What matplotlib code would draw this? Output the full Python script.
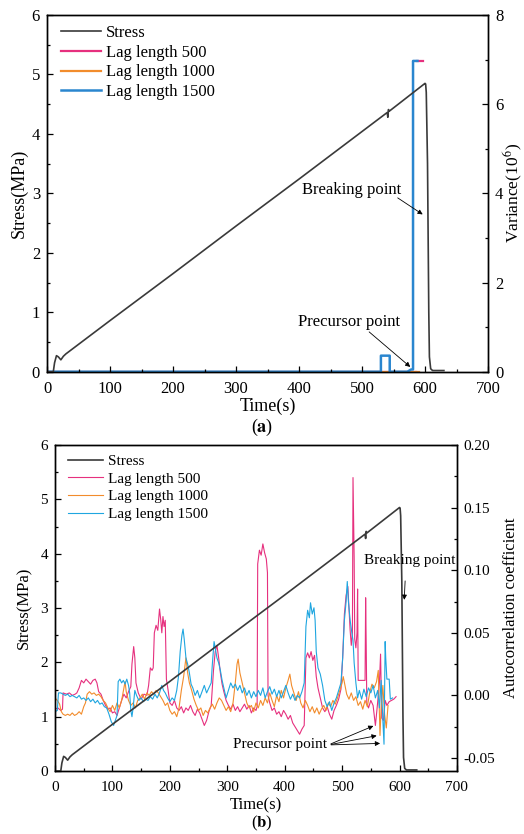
import numpy as np
import matplotlib
matplotlib.use("Agg")
import matplotlib.pyplot as plt
from matplotlib.ticker import MultipleLocator, FormatStrFormatter

plt.rcParams["font.family"] = ["Liberation Serif", "DejaVu Serif"]
plt.rcParams["mathtext.fontset"] = "stix"
plt.rcParams["font.size"] = 12

# stress curve (shared by both panels)
stress_t = [0, 10, 12, 15, 18, 22, 26, 30, 40, 60, 100, 200, 300, 400, 500,
            540, 541, 542, 543, 560, 600, 601, 602, 604, 606, 607, 609, 612, 620, 630]
stress = [0, 0, 0.15, 0.27, 0.25, 0.2, 0.26, 0.3, 0.38, 0.54, 0.86, 1.65, 2.45,
          3.24, 4.04, 4.36, 4.28, 4.41, 4.38, 4.52, 4.85, 4.84, 4.7, 3.5, 1.0,
          0.25, 0.05, 0.02, 0.02, 0.02]

# panel (a): variance (10^6)
var500_t = [0, 586, 587, 587, 597]
var500 = [0, 0, np.nan, 6.97, 6.97]
var1000_t = [0, 590]
var1000 = [0, 0]
var1500_t = [0, 530, 530, 544, 544, 572, 578, 581, 581, 588]
var1500 = [0, 0, 0.36, 0.36, 0, 0, 0.05, 0.05, 6.97, 6.97]

# panel (b): autocorrelation coefficient
ac500_t = [0, 5, 10, 13, 14, 20, 25, 30, 35, 38, 42, 46, 50, 54, 58, 62, 66, 70, 73, 76,
           80, 84, 88, 92, 96, 100, 104, 108, 112, 116, 120, 124, 128, 132, 134, 137, 139,
           141, 145, 150, 155, 160, 163, 166, 169, 171, 173, 176, 179, 182, 184, 186, 188,
           190, 192, 194, 197, 200, 204, 208, 212, 216, 220, 224, 228, 232, 236, 240, 244,
           248, 252, 256, 260, 264, 268, 272, 276, 279, 282, 285, 288, 291, 294, 298, 302,
           306, 310, 314, 318, 322, 326, 330, 334, 338, 342, 346, 350, 352, 353, 356, 359,
           362, 365, 368, 370, 371, 374, 378, 382, 386, 390, 394, 398, 402, 406, 410, 414,
           418, 422, 426, 430, 434, 437, 440, 443, 446, 449, 452, 455, 458, 462, 466, 470,
           474, 478, 482, 486, 490, 494, 498, 501, 504, 507, 510, 512, 514, 516, 518, 519,
           521, 522, 524, 526, 527, 528, 530, 535, 540, 541, 542, 543, 546, 550, 554, 558,
           561, 565, 567, 569, 572, 575, 578, 582, 586, 590, 594]
ac500 = [-0.011, -0.010, -0.012, -0.011, 0.002, 0.001, 0.002, 0.000, 0.001, 0.002, 0.006,
         0.012, 0.010, 0.013, 0.011, 0.009, 0.012, 0.013, 0.010, 0.003, 0.001, -0.004,
         -0.008, -0.011, -0.010, -0.014, -0.013, -0.016, -0.010, -0.004, 0.001, -0.002,
         0.003, 0.007, 0.025, 0.039, 0.030, 0.010, 0.002, -0.003, 0.001, 0.000, 0.008,
         0.022, 0.020, 0.022, 0.050, 0.056, 0.052, 0.069, 0.061, 0.050, 0.063, 0.055,
         0.060, 0.013, 0.004, -0.006, -0.008, -0.004, -0.010, -0.012, -0.009, -0.014,
         -0.010, -0.012, -0.008, -0.013, -0.016, -0.011, -0.014, -0.019, -0.024, -0.020,
         -0.013, -0.008, 0.020, 0.035, 0.040, 0.030, 0.018, 0.009, 0.003, -0.004, -0.008,
         -0.011, -0.007, -0.012, -0.009, -0.013, -0.010, -0.007, -0.011, -0.008, -0.014,
         -0.010, -0.012, -0.009, 0.105, 0.116, 0.112, 0.121, 0.114, 0.109, 0.098, 0.000,
         -0.006, -0.012, -0.010, -0.015, -0.013, -0.017, -0.012, -0.015, -0.019, -0.016,
         -0.022, -0.025, -0.028, -0.031, -0.027, -0.024, 0.030, 0.034, 0.030, 0.035,
         0.028, 0.032, 0.015, 0.006, -0.002, -0.010, -0.013, -0.009, -0.015, -0.019,
         -0.012, -0.008, -0.003, 0.005, 0.030, 0.065, 0.080, 0.087, 0.070, 0.052, 0.040,
         0.050, 0.174, 0.110, 0.045, 0.038, 0.050, 0.085, 0.012, 0.012, 0.012, 0.012,
         0.078, 0.040, -0.006, -0.010, -0.004, -0.008, -0.024, -0.010, 0.010, 0.033,
         -0.018, -0.020, -0.004, -0.008, -0.005, -0.004, -0.003, -0.001]

ac1000_t = [0, 4, 8, 11, 14, 18, 22, 26, 30, 34, 38, 42, 46, 50, 53, 56, 60, 64, 68, 72,
            76, 80, 84, 88, 92, 96, 100, 104, 108, 112, 116, 120, 122, 124, 128, 132, 136,
            140, 144, 148, 152, 156, 160, 164, 168, 172, 176, 180, 184, 188, 192, 196, 200,
            204, 208, 212, 216, 220, 224, 228, 231, 234, 238, 242, 246, 250, 254, 258, 262,
            266, 270, 274, 278, 282, 286, 290, 294, 298, 302, 306, 310, 314, 317, 319, 322,
            326, 330, 334, 338, 342, 346, 350, 354, 358, 362, 366, 370, 374, 378, 382, 386,
            390, 394, 398, 402, 406, 409, 412, 416, 420, 424, 428, 432, 436, 440, 444, 448,
            452, 456, 460, 464, 468, 472, 476, 480, 484, 488, 492, 496, 500, 502, 505, 508,
            512, 516, 520, 524, 528, 532, 536, 540, 544, 548, 552, 556, 560, 563, 566, 568,
            571, 574, 577, 580]
ac1000 = [-0.002, -0.004, -0.007, -0.013, -0.015, -0.016, -0.015, -0.016, -0.014, -0.016,
          -0.015, -0.013, -0.015, -0.009, -0.006, 0.001, 0.003, 0.001, 0.002, 0.000, 0.001,
          -0.001, -0.004, -0.006, -0.010, -0.013, -0.008, -0.012, -0.006, -0.010, -0.004,
          0.006, 0.011, 0.003, -0.004, -0.008, -0.006, -0.010, -0.004, -0.002, 0.001,
          -0.003, 0.002, 0.000, 0.003, 0.001, 0.004, 0.002, -0.001, -0.004, -0.008, -0.006,
          -0.012, -0.015, -0.013, -0.017, -0.010, 0.004, 0.015, 0.030, 0.018, 0.010, 0.004,
          -0.003, -0.008, -0.012, -0.010, -0.016, -0.012, -0.014, -0.010, -0.007, -0.011,
          -0.006, -0.002, -0.004, -0.008, -0.012, -0.009, -0.013, -0.006, 0.010, 0.025,
          0.029, 0.018, 0.010, 0.002, -0.006, -0.010, -0.008, -0.013, -0.006, -0.010,
          -0.004, -0.008, -0.002, -0.006, 0.002, -0.004, -0.009, 0.000, -0.005, 0.004,
          -0.002, 0.006, 0.012, 0.017, 0.008, 0.002, -0.004, 0.003, -0.006, -0.010, -0.004,
          -0.008, -0.013, -0.009, -0.014, -0.010, -0.015, -0.011, -0.008, -0.012, -0.006,
          -0.009, -0.004, -0.007, -0.002, 0.004, 0.010, 0.015, 0.008, 0.001, -0.003, 0.002,
          -0.004, -0.001, -0.008, -0.005, -0.011, -0.004, -0.009, 0.002, 0.009, 0.006,
          0.011, 0.020, -0.032, -0.010, 0.008, -0.015, -0.026, -0.008]

ac1500_t = [0, 4, 6, 10, 14, 18, 22, 26, 30, 34, 38, 42, 46, 50, 54, 58, 62, 66, 70, 74,
            78, 82, 86, 90, 94, 98, 102, 105, 108, 110, 113, 116, 119, 122, 125, 128, 130,
            132, 134, 136, 139, 142, 146, 150, 154, 158, 162, 166, 170, 174, 178, 182, 186,
            189, 192, 196, 200, 204, 208, 212, 215, 218, 221, 223, 225, 228, 231, 234, 237,
            240, 244, 248, 252, 256, 260, 264, 268, 272, 274, 277, 279, 282, 285, 288, 291,
            295, 298, 302, 306, 310, 314, 318, 322, 326, 330, 334, 338, 342, 346, 350, 354,
            358, 362, 366, 370, 374, 378, 382, 386, 390, 394, 398, 402, 406, 410, 414, 418,
            422, 426, 430, 434, 437, 440, 443, 445, 448, 451, 453, 455, 458, 462, 466, 470,
            474, 478, 482, 486, 490, 494, 498, 501, 504, 507, 509, 511, 514, 517, 519, 521,
            524, 527, 530, 534, 538, 542, 546, 550, 554, 558, 562, 565, 568, 571, 573, 575,
            576, 578, 582, 584, 588]
ac1500 = [-0.013, -0.012, 0.002, 0.002, 0.001, 0.000, 0.001, -0.001, 0.000, -0.001,
          -0.002, 0.000, -0.003, -0.002, -0.004, -0.002, -0.005, -0.003, -0.006, -0.004,
          -0.007, -0.006, -0.009, -0.010, -0.015, -0.021, -0.024, -0.020, -0.016, 0.011,
          0.013, 0.010, 0.012, 0.009, 0.013, 0.008, 0.002, -0.012, -0.017, -0.010, 0.004,
          0.000, -0.004, -0.002, -0.005, -0.003, -0.004, -0.001, -0.003, 0.001, -0.002,
          0.002, 0.008, 0.004, 0.002, -0.002, -0.005, -0.002, -0.004, 0.004, 0.015, 0.035,
          0.048, 0.053, 0.045, 0.030, 0.025, 0.018, 0.009, 0.006, 0.000, 0.004, -0.002,
          0.003, 0.008, 0.002, 0.006, 0.010, 0.025, 0.043, 0.038, 0.030, 0.026, 0.020,
          0.012, 0.004, -0.002, 0.004, 0.010, 0.006, 0.009, 0.004, 0.008, 0.002, 0.006,
          0.000, 0.004, -0.002, 0.003, -0.001, 0.004, 0.000, 0.006, -0.002, 0.003, 0.007,
          0.001, 0.005, -0.001, 0.004, -0.002, 0.003, 0.008, 0.002, -0.003, 0.001, -0.004,
          0.000, -0.002, 0.003, 0.010, 0.055, 0.068, 0.062, 0.074, 0.065, 0.070, 0.060,
          0.035, 0.022, 0.017, 0.008, -0.004, -0.009, -0.005, -0.012, -0.006, -0.002,
          0.004, 0.010, 0.030, 0.060, 0.075, 0.091, 0.075, 0.060, 0.050, 0.044, 0.026,
          0.010, -0.002, 0.004, -0.003, 0.005, -0.001, 0.006, 0.002, 0.008, -0.002, 0.004,
          -0.010, 0.012, -0.020, -0.039, 0.043, 0.030, 0.013, 0.013, -0.003, -0.002]

STRESS_C = "#3a3a3a"
PINK = "#e6307e"
ORANGE = "#f28c2c"
BLUE_A = "#2a86cf"
BLUE_B = "#1fa6e0"


def style_axes(ax, ax2, fs, lfs, lpad):
    ax.set_xlim(0, 700)
    ax.set_ylim(0, 6)
    ax.xaxis.set_major_locator(MultipleLocator(100))
    ax.xaxis.set_minor_locator(MultipleLocator(50))
    ax.yaxis.set_major_locator(MultipleLocator(1))
    ax.yaxis.set_minor_locator(MultipleLocator(0.5))
    for a in (ax, ax2):
        a.tick_params(which="both", direction="in", top=False, labelsize=fs,
                      width=0.9, pad=5)
        a.tick_params(which="major", length=4)
        a.tick_params(which="minor", length=2.5)
        for s in a.spines.values():
            s.set_linewidth(1.0)
    ax.tick_params(axis="x", which="both", pad=7)
    ax.set_xlabel("Time(s)", fontsize=lfs, labelpad=lpad)


fig = plt.figure(figsize=(5.24, 8.34), dpi=100)
arrow = dict(arrowstyle="-|>", color="black", lw=0.6, mutation_scale=7)

# ---- panel (a)
ax = fig.add_axes([0.0897, 0.5543, 0.8416, 0.4277])
ax2 = ax.twinx()
ax.set_zorder(ax2.get_zorder() + 1)
ax.patch.set_visible(False)
l0, = ax.plot(stress_t, stress, color=STRESS_C, lw=1.2, label="Stress")
l1, = ax2.plot(var500_t, var500, color=PINK, lw=1.6, label="Lag length 500")
l2, = ax2.plot(var1000_t, var1000, color=ORANGE, lw=1.6, label="Lag length 1000")
l3, = ax2.plot(var1500_t, var1500, color=BLUE_A, lw=1.8, label="Lag length 1500")
style_axes(ax, ax2, 12, 13, 0)
ax.set_ylabel("Stress(MPa)", fontsize=13, labelpad=3)
ax2.set_ylim(0, 8)
ax2.yaxis.set_major_locator(MultipleLocator(2))
ax2.yaxis.set_minor_locator(MultipleLocator(1))
ax2.set_ylabel("Variance(10$^6$)", fontsize=12.5, labelpad=-1)
ax.legend(handles=[l0, l1, l2, l3], loc="upper left", frameon=False, fontsize=12,
          handlelength=2.4, handletextpad=0.25, labelspacing=0.22,
          bbox_to_anchor=(0.01, 1.0), borderaxespad=0.2)
ax.annotate("", xy=(600, 2.62), xytext=(553, 2.95), arrowprops=arrow)
ax.text(484, 3.05, "Breaking point", ha="center", va="center", fontsize=12)
ax.annotate("", xy=(580, 0.05), xytext=(508, 0.7), arrowprops=arrow)
ax.text(480, 0.83, "Precursor point", ha="center", va="center", fontsize=12)
fig.text(0.5, 0.488, r"($\mathbf{a}$)", ha="center", va="center", fontsize=13)

# ---- panel (b)
bx = fig.add_axes([0.105, 0.0755, 0.767, 0.3909])
bx2 = bx.twinx()
bx.set_zorder(bx2.get_zorder() + 1)
bx.patch.set_visible(False)
m0, = bx.plot(stress_t, stress, color=STRESS_C, lw=1.2, label="Stress")
m1, = bx2.plot(ac500_t, ac500, color=PINK, lw=0.8, label="Lag length 500")
m2, = bx2.plot(ac1000_t, ac1000, color=ORANGE, lw=0.8, label="Lag length 1000")
m3, = bx2.plot(ac1500_t, ac1500, color=BLUE_B, lw=0.8, label="Lag length 1500")
style_axes(bx, bx2, 11, 12, 2.5)
bx.set_ylabel("Stress(MPa)", fontsize=12, labelpad=6)
bx2.set_ylim(-0.0604, 0.20)
bx2.yaxis.set_major_locator(MultipleLocator(0.05))
bx2.yaxis.set_minor_locator(MultipleLocator(0.025))
bx2.yaxis.set_major_formatter(FormatStrFormatter("%.2f"))
bx2.set_ylabel("Autocorrelation coefficient", fontsize=12, labelpad=5)
bx.legend(handles=[m0, m1, m2, m3], loc="upper left", frameon=False, fontsize=11,
          handlelength=2.3, handletextpad=0.3, labelspacing=0.26,
          bbox_to_anchor=(0.01, 1.0), borderaxespad=0.2)
bx.annotate("", xy=(608, 3.1), xytext=(610, 3.55), arrowprops=arrow)
bx.text(617, 3.88, "Breaking point", ha="center", va="center", fontsize=11)
for tip in [(559, 0.85), (565, 0.66), (571, 0.51)]:
    bx.annotate("", xy=tip, xytext=(476, 0.48), arrowprops=arrow)
bx.text(392, 0.48, "Precursor point", ha="center", va="center", fontsize=11)
fig.text(0.5, 0.013, r"($\mathbf{b}$)", ha="center", va="center", fontsize=12)

fig.savefig("out.png", dpi=100)
